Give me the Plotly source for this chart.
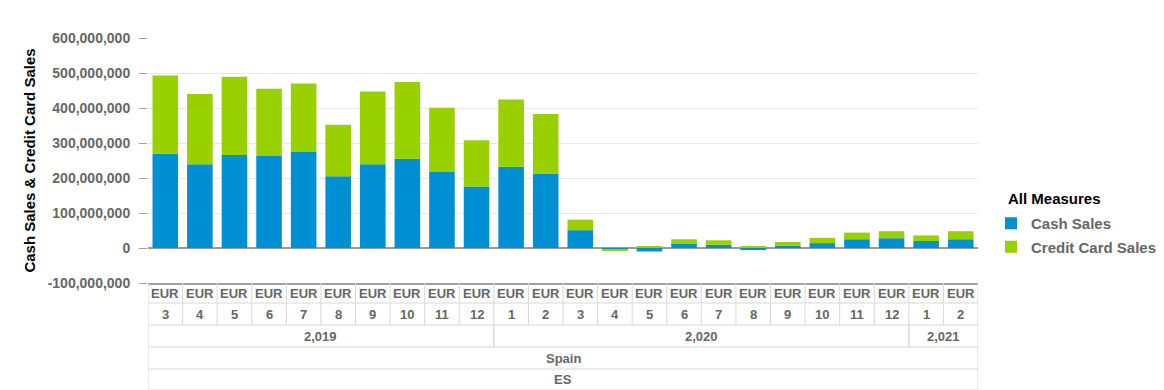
import plotly.graph_objects as go

# ---- data ----
currency = ["EUR"] * 24
months = ["3", "4", "5", "6", "7", "8", "9", "10", "11", "12",
          "1", "2", "3", "4", "5", "6", "7", "8", "9", "10", "11", "12",
          "1", "2"]
years = ["2,019"] * 10 + ["2,020"] * 12 + ["2,021"] * 2
country = "Spain"
country_code = "ES"

cash_sales = [269e6, 239e6, 266e6, 263e6, 274e6, 205e6, 239e6, 255e6, 217e6, 176e6,
              232e6, 213e6, 51e6, -5e6, -10e6, 13e6, 9e6, -6e6, 6e6, 14e6, 25e6, 28e6,
              20e6, 25e6]
credit_sales = [224e6, 201e6, 223e6, 192e6, 196e6, 147e6, 208e6, 219e6, 184e6, 132e6,
                192e6, 170e6, 30e6, -3e6, 4e6, 12e6, 13e6, 3e6, 11e6, 15e6, 19e6, 20e6,
                16e6, 23e6]

y_ticks = [-100e6, 0, 100e6, 200e6, 300e6, 400e6, 500e6, 600e6]
y_tick_text = [f"{v:,.0f}" for v in y_ticks]

# ---- styling ----
# page body has an 8px margin, so the figure is sized to end at the window edge
W, H = 1156, 382
ML, MR, MT, MB = 140, 186, 30, 107
PH = H - MT - MB
PW = W - ML - MR
FONT = "Liberation Sans, Arial, sans-serif"
GRAY = "#666666"
BLUE = "#008fd3"
GREEN = "#99d000"

n = len(months)
xs = list(range(n))

fig = go.Figure()
fig.add_trace(go.Bar(x=xs, y=cash_sales, name="Cash Sales", marker_color=BLUE,
                     marker_line_width=0, legendgroup="a"))
fig.add_trace(go.Bar(x=xs, y=credit_sales, name="Credit Card Sales", marker_color=GREEN,
                     marker_line_width=0, legendgroup="b"))

# ---- table below the plot ----
row_px = [0, 20, 42, 64, 86, 107]  # row boundaries below plot bottom (pixels)
row_y = [-p / PH for p in row_px]
line_col = "#d8d8d8"
shapes = []
for yy in row_y[1:]:
    shapes.append(dict(type="line", xref="x", yref="paper", x0=-0.5, x1=n - 0.5,
                       y0=yy, y1=yy, line=dict(color=line_col, width=1)))


def vline(xv, r0, r1):
    shapes.append(dict(type="line", xref="x", yref="paper", x0=xv, x1=xv,
                       y0=row_y[r0], y1=row_y[r1], line=dict(color=line_col, width=1)))


for k in range(n + 1):
    vline(k - 0.5, 0, 2)
groups = []
start = 0
for i in range(1, n + 1):
    if i == n or years[i] != years[start]:
        groups.append((start, i - 1, years[start]))
        start = i
for g0, g1, _ in groups:
    vline(g0 - 0.5, 2, 3)
    vline(g1 + 0.5, 2, 3)
vline(-0.5, 3, 5)
vline(n - 0.5, 3, 5)

annotations = []
tfont = dict(family=FONT, size=13, color=GRAY, weight="bold")


def rowc(r):
    return (row_y[r] + row_y[r + 1]) / 2


for i in range(n):
    annotations.append(dict(x=i, y=rowc(0), xref="x", yref="paper", text=currency[i],
                            showarrow=False, font=tfont, yanchor="middle"))
    annotations.append(dict(x=i, y=rowc(1), xref="x", yref="paper", text=months[i],
                            showarrow=False, font=tfont, yanchor="middle"))
for g0, g1, label in groups:
    annotations.append(dict(x=(g0 + g1) / 2, y=rowc(2), xref="x", yref="paper", text=label,
                            showarrow=False, font=tfont, yanchor="middle"))
annotations.append(dict(x=(n - 1) / 2, y=rowc(3), xref="x", yref="paper", text=country,
                        showarrow=False, font=tfont, yanchor="middle"))
annotations.append(dict(x=(n - 1) / 2, y=rowc(4), xref="x", yref="paper", text=country_code,
                        showarrow=False, font=tfont, yanchor="middle"))

# legend title as annotation
annotations.append(dict(x=(998 - ML) / PW, y=(MT + PH - 190) / PH, xref="paper", yref="paper",
                        text="All Measures", showarrow=False, xanchor="left",
                        yanchor="middle",
                        font=dict(family=FONT, size=15, color="black", weight="bold")))

fig.update_layout(
    width=W, height=H,
    margin=dict(l=ML, r=MR, t=MT, b=MB, autoexpand=False),
    barmode="relative",
    bargap=0.26,
    plot_bgcolor="white",
    paper_bgcolor="white",
    font=dict(family=FONT, color=GRAY),
    shapes=shapes,
    annotations=annotations,
    showlegend=True,
    legend=dict(
        x=(983 - ML) / PW, y=(MT + PH - 199) / PH, xanchor="left", yanchor="top",
        font=dict(family=FONT, size=15, color=GRAY, weight="bold"),
        itemwidth=30, tracegroupgap=1, traceorder="grouped",
    ),
    xaxis=dict(
        range=[-0.5, n - 0.5],
        showticklabels=False, ticks="",
        showgrid=False, zeroline=False,
        showline=True, linecolor="#a0a0a0", linewidth=2,
        fixedrange=True,
    ),
    yaxis=dict(
        range=[-100e6, 600e6],
        tickvals=y_ticks,
        ticktext=y_tick_text,
        ticks="outside", ticklen=8, tickcolor="#a0a0a0", tickwidth=1,
        ticklabelstandoff=6,
        tickfont=dict(family=FONT, size=14, color=GRAY, weight="bold"),
        showgrid=True, gridcolor="#e8e8e8", gridwidth=1,
        zeroline=True, zerolinecolor="#9a9a9a", zerolinewidth=1.5,
        showline=False,
        title=dict(text="Cash Sales & Credit Card Sales", standoff=8,
                   font=dict(family=FONT, size=15, color="black", weight="bold")),
    ),
)

fig.write_html("out.html")
